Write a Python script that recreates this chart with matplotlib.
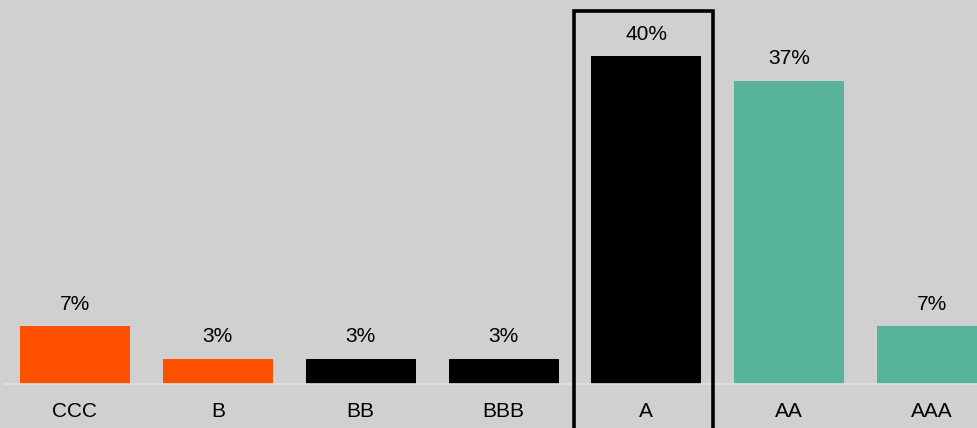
import matplotlib.pyplot as plt
from matplotlib.patches import Rectangle

plt.rcParams['font.family'] = ['Liberation Sans', 'DejaVu Sans']

# rating buckets and share of issuers
ratings = ['CCC', 'B', 'BB', 'BBB', 'A', 'AA', 'AAA']
shares = [7, 3, 3, 3, 40, 37, 7]
colors = ['#ff5000', '#ff5000', '#000000', '#000000', '#000000', '#57b399', '#57b399']
highlight = 'A'

bg = '#d0d0d0'
fig = plt.figure(figsize=(9.77, 4.28), dpi=100, facecolor=bg)
ax = fig.add_axes([3.5 / 977, 44.5 / 428, 1000 / 977, 383.5 / 428], facecolor=bg)

x = range(len(ratings))
bars = ax.bar(x, shares, width=0.77, color=colors)
for rect, val in zip(bars, shares):
    ax.annotate(f'{val}%', (rect.get_x() + rect.get_width() / 2, val),
                xytext=(0, 16), textcoords='offset points',
                ha='center', va='center', fontsize=15)

ax.set_xlim(-0.5, len(ratings) - 0.5)
ax.set_ylim(0, 46.9)
ax.set_xticks(list(x))
ax.set_xticklabels(ratings, fontsize=15)
ax.tick_params(axis='x', length=0, pad=13)
ax.set_yticks([])
for side in ['top', 'right', 'left']:
    ax.spines[side].set_visible(False)
ax.spines['bottom'].set_color('#e2e2e2')
ax.spines['bottom'].set_linewidth(1.2)

# frame around the highlighted bucket
i = ratings.index(highlight)
ax.add_patch(Rectangle((i - 0.504, -10), 0.973, 55.5, fill=False,
                       edgecolor='black', linewidth=2.6, clip_on=False, zorder=5))

fig.savefig('out.png', dpi=100, facecolor=bg)
